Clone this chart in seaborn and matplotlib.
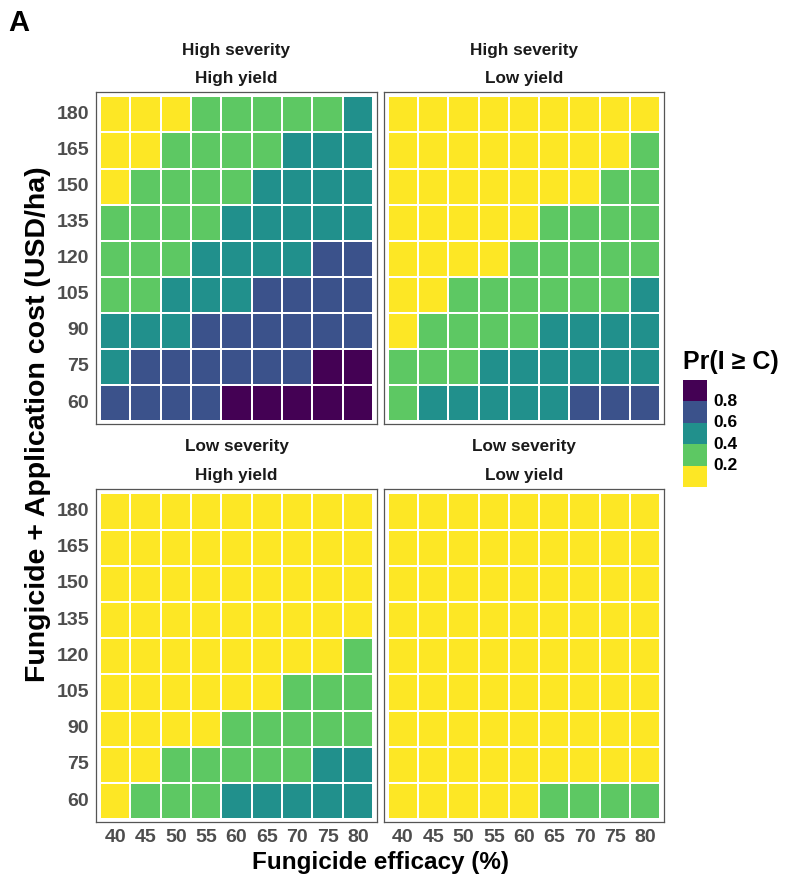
import numpy as np
import pandas as pd
import matplotlib
matplotlib.use("Agg")
import matplotlib.pyplot as plt
from matplotlib.colors import ListedColormap, BoundaryNorm
import seaborn as sns

# ---- data ----
efficacy = [40, 45, 50, 55, 60, 65, 70, 75, 80]
cost = [180, 165, 150, 135, 120, 105, 90, 75, 60]  # top to bottom

hs_hy = [
    [0.1, 0.1, 0.1, 0.3, 0.3, 0.3, 0.3, 0.3, 0.5],
    [0.1, 0.1, 0.3, 0.3, 0.3, 0.3, 0.5, 0.5, 0.5],
    [0.1, 0.3, 0.3, 0.3, 0.3, 0.5, 0.5, 0.5, 0.5],
    [0.3, 0.3, 0.3, 0.3, 0.5, 0.5, 0.5, 0.5, 0.5],
    [0.3, 0.3, 0.3, 0.5, 0.5, 0.5, 0.5, 0.7, 0.7],
    [0.3, 0.3, 0.5, 0.5, 0.5, 0.7, 0.7, 0.7, 0.7],
    [0.5, 0.5, 0.5, 0.7, 0.7, 0.7, 0.7, 0.7, 0.7],
    [0.5, 0.7, 0.7, 0.7, 0.7, 0.7, 0.7, 0.9, 0.9],
    [0.7, 0.7, 0.7, 0.7, 0.9, 0.9, 0.9, 0.9, 0.9],
]
hs_ly = [
    [0.1, 0.1, 0.1, 0.1, 0.1, 0.1, 0.1, 0.1, 0.1],
    [0.1, 0.1, 0.1, 0.1, 0.1, 0.1, 0.1, 0.1, 0.3],
    [0.1, 0.1, 0.1, 0.1, 0.1, 0.1, 0.1, 0.3, 0.3],
    [0.1, 0.1, 0.1, 0.1, 0.1, 0.3, 0.3, 0.3, 0.3],
    [0.1, 0.1, 0.1, 0.1, 0.3, 0.3, 0.3, 0.3, 0.3],
    [0.1, 0.1, 0.3, 0.3, 0.3, 0.3, 0.3, 0.3, 0.5],
    [0.1, 0.3, 0.3, 0.3, 0.3, 0.5, 0.5, 0.5, 0.5],
    [0.3, 0.3, 0.3, 0.5, 0.5, 0.5, 0.5, 0.5, 0.5],
    [0.3, 0.5, 0.5, 0.5, 0.5, 0.5, 0.7, 0.7, 0.7],
]
ls_hy = [
    [0.1, 0.1, 0.1, 0.1, 0.1, 0.1, 0.1, 0.1, 0.1],
    [0.1, 0.1, 0.1, 0.1, 0.1, 0.1, 0.1, 0.1, 0.1],
    [0.1, 0.1, 0.1, 0.1, 0.1, 0.1, 0.1, 0.1, 0.1],
    [0.1, 0.1, 0.1, 0.1, 0.1, 0.1, 0.1, 0.1, 0.1],
    [0.1, 0.1, 0.1, 0.1, 0.1, 0.1, 0.1, 0.1, 0.3],
    [0.1, 0.1, 0.1, 0.1, 0.1, 0.1, 0.3, 0.3, 0.3],
    [0.1, 0.1, 0.1, 0.1, 0.3, 0.3, 0.3, 0.3, 0.3],
    [0.1, 0.1, 0.3, 0.3, 0.3, 0.3, 0.3, 0.5, 0.5],
    [0.1, 0.3, 0.3, 0.3, 0.5, 0.5, 0.5, 0.5, 0.5],
]
ls_ly = [
    [0.1, 0.1, 0.1, 0.1, 0.1, 0.1, 0.1, 0.1, 0.1],
    [0.1, 0.1, 0.1, 0.1, 0.1, 0.1, 0.1, 0.1, 0.1],
    [0.1, 0.1, 0.1, 0.1, 0.1, 0.1, 0.1, 0.1, 0.1],
    [0.1, 0.1, 0.1, 0.1, 0.1, 0.1, 0.1, 0.1, 0.1],
    [0.1, 0.1, 0.1, 0.1, 0.1, 0.1, 0.1, 0.1, 0.1],
    [0.1, 0.1, 0.1, 0.1, 0.1, 0.1, 0.1, 0.1, 0.1],
    [0.1, 0.1, 0.1, 0.1, 0.1, 0.1, 0.1, 0.1, 0.1],
    [0.1, 0.1, 0.1, 0.1, 0.1, 0.1, 0.1, 0.1, 0.1],
    [0.1, 0.1, 0.1, 0.1, 0.1, 0.3, 0.3, 0.3, 0.3],
]
strip_labels = [("High severity", "High yield"), ("High severity", "Low yield"),
                ("Low severity", "High yield"), ("Low severity", "Low yield")]
breaks = [0.0, 0.2, 0.4, 0.6, 0.8, 1.0]
break_labels = ["0.2", "0.4", "0.6", "0.8"]
colors = ["#FDE725", "#5DC863", "#21908C", "#3B528B", "#440154"]

# ---- style ----
sns.set_style("white")
plt.rcParams['font.family'] = ['Liberation Sans', 'DejaVu Sans']
cmap = ListedColormap(colors)
norm = BoundaryNorm(breaks, cmap.N)

W, H = 786, 885
fig = plt.figure(figsize=(W / 100, H / 100), dpi=100)

def fx(px):
    return px / W

def fy(py):
    return 1 - py / H

panels = [
    (96, 92, 377, 424),
    (384, 92, 664, 424),
    (96, 489, 377, 822),
    (384, 489, 664, 822),
]
datasets = [hs_hy, hs_ly, ls_hy, ls_ly]
tick_col = "#4D4D4D"

for i, ((x0, y0, x1, y1), data, (s1, s2)) in enumerate(zip(panels, datasets, strip_labels)):
    ax = fig.add_axes([fx(x0), fy(y1), (x1 - x0) / W, (y1 - y0) / H])
    df = pd.DataFrame(data, index=cost, columns=efficacy)
    sns.heatmap(df, ax=ax, cmap=cmap, norm=norm, cbar=False,
                linewidths=1.4, linecolor="white", square=False)
    ax.set_xlim(-0.13, 9.13)
    ax.set_ylim(9.08, -0.12)
    for sp in ax.spines.values():
        sp.set_visible(True)
        sp.set_color("#555555")
        sp.set_linewidth(0.9)
    ax.set_xlabel("")
    ax.set_ylabel("")
    ax.tick_params(axis="both", length=3, width=0.8, color="#333333",
                   labelsize=14, labelcolor=tick_col, pad=2)
    if i in (0, 2):
        ax.set_yticks(np.arange(9) + 0.5)
        ax.set_yticklabels([str(c) for c in cost], rotation=0, fontweight="bold")
    else:
        ax.set_yticks([])
    if i in (2, 3):
        ax.set_xticks(np.arange(9) + 0.5)
        ax.set_xticklabels([str(e) for e in efficacy], rotation=0, fontweight="bold")
    else:
        ax.set_xticks([])
    cx = (x0 + x1) / 2
    fig.text(fx(cx), fy(y0 - 42), s1, ha="center", va="center",
             fontsize=12.3, fontweight="bold", color="#1A1A1A")
    fig.text(fx(cx), fy(y0 - 14), s2, ha="center", va="center",
             fontsize=12.3, fontweight="bold", color="#1A1A1A")

# axis titles
fig.text(fx(380), fy(862), "Fungicide efficacy (%)", ha="center", va="center",
         fontsize=17.5, fontweight="bold", color="black")
fig.text(fx(38), fy(424), "Fungicide + Application cost (USD/ha)", ha="center",
         va="center", rotation=90, fontsize=20.5, fontweight="bold", color="black")
fig.text(fx(8), fy(23), "A", ha="left", va="center", fontsize=21,
         fontweight="bold", color="black")

# legend
lax = fig.add_axes([fx(683), fy(487), 24 / W, 107 / H])
lax.pcolormesh([0, 1], np.arange(6), np.array([[0.1], [0.3], [0.5], [0.7], [0.9]]),
               cmap=cmap, norm=norm)
lax.set_xlim(0, 1)
lax.set_ylim(0, 5)
lax.axis("off")
for k, lab in enumerate(break_labels):
    lax.text(1.25, k + 1, lab, transform=lax.transData, ha="left", va="center",
             fontsize=12.5, fontweight="bold", color="black")
fig.text(fx(683), fy(362), "Pr(I ≥ C)", ha="left", va="center", fontsize=18,
         fontweight="bold", color="black")

fig.savefig("out.png", dpi=100)
